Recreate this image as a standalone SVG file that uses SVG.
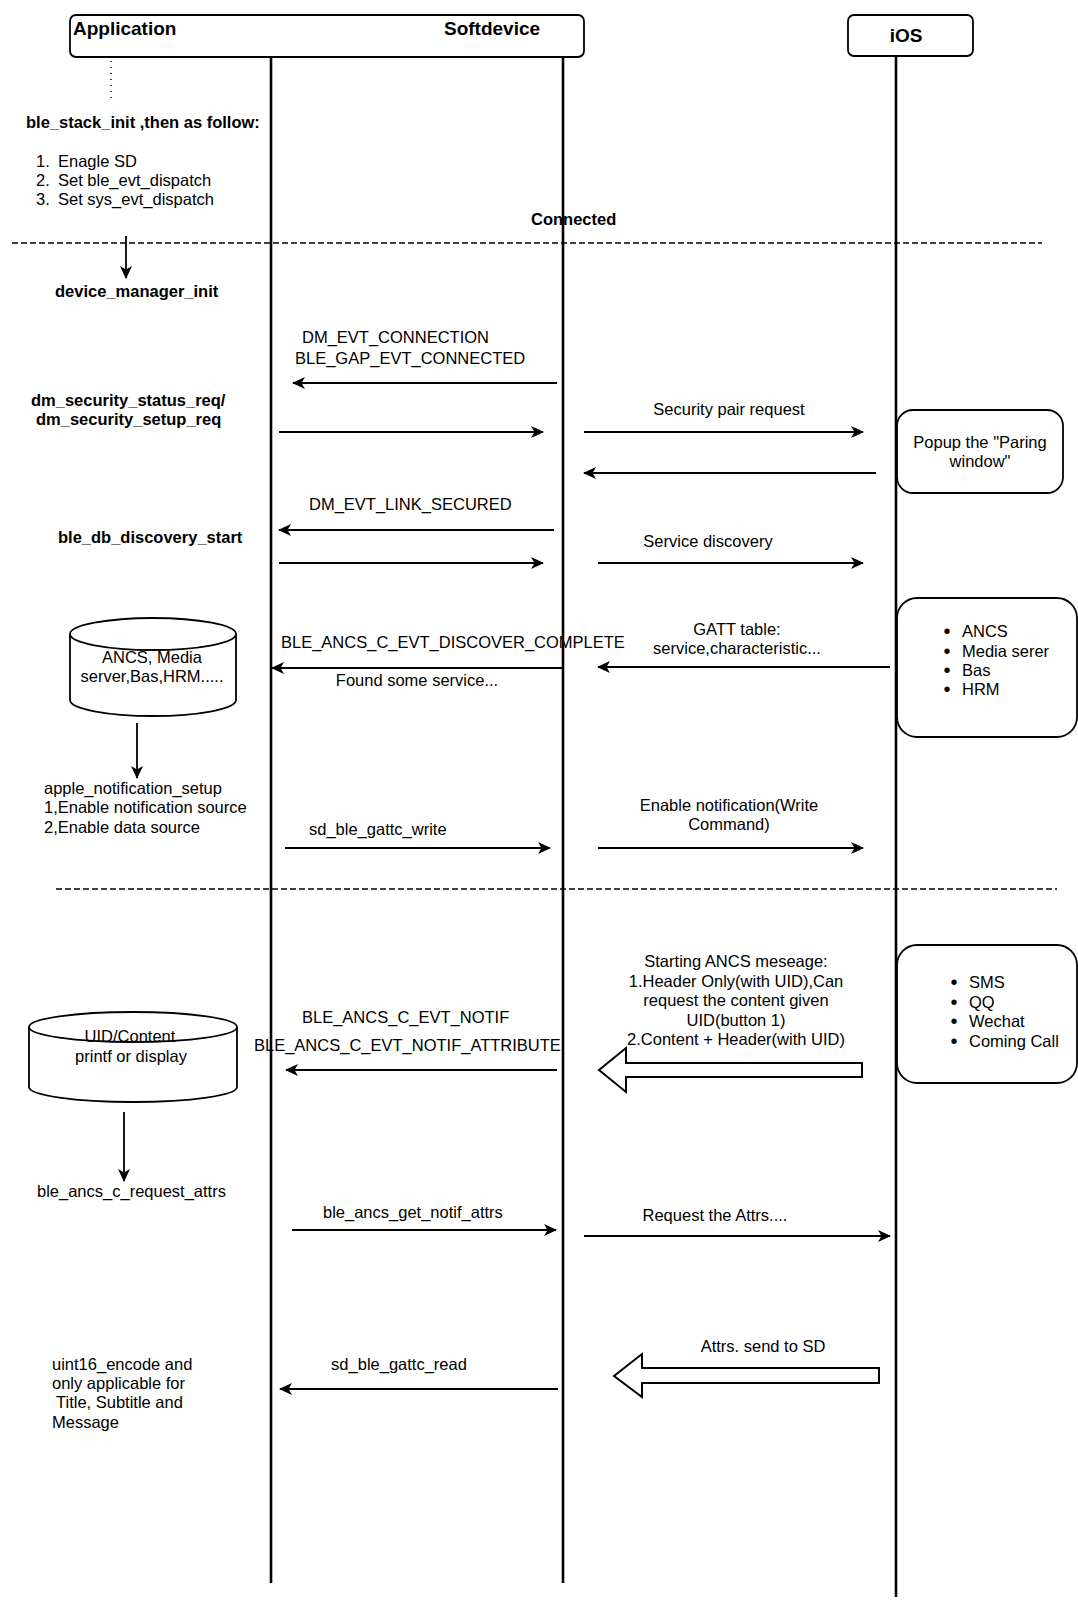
<svg xmlns="http://www.w3.org/2000/svg" width="1078" height="1601" viewBox="0 0 1078 1601">
<defs>
<marker id="ah" viewBox="0 0 13 12" refX="12" refY="6" markerWidth="13" markerHeight="12" markerUnits="userSpaceOnUse" orient="auto"><path d="M0,0 L13,6 L0,12 L3.5,6 Z" fill="#000"/></marker>
<style>
text{font-family:"Liberation Sans",Arial,Helvetica,sans-serif;fill:#000;font-size:16.5px}
.b{font-weight:bold}
.h{font-weight:bold;font-size:19px}
.m{text-anchor:middle}
.bu{text-anchor:middle;font-size:20px}
.ln{stroke:#000;stroke-width:1.8;fill:none;marker-end:url(#ah)}
.life{stroke:#000;stroke-width:2.6}
.box{fill:#fff;stroke:#000;stroke-width:1.8}
.dash{stroke:#000;stroke-width:1.5;stroke-dasharray:6 3}
.blk{fill:#fff;stroke:#000;stroke-width:2;stroke-linejoin:miter}
</style>
</defs>
<rect width="1078" height="1601" fill="#fff"/>

<g id="header-app-sd">
<rect class="box" x="70" y="15" width="514" height="42" rx="6"/>
<text class="h" x="73" y="35">Application</text>
<text class="h" x="444" y="35">Softdevice</text>
</g>
<g id="header-ios">
<rect class="box" x="848" y="15" width="125" height="41" rx="6"/>
<text class="h m" x="906" y="42">iOS</text>
</g>

<g id="separators">
<line x1="111" y1="61" x2="111" y2="100" stroke="#000" stroke-width="1.5" stroke-dasharray="1 5"/>
<line class="dash" x1="12" y1="243" x2="1042" y2="243"/>
<line class="dash" x1="56" y1="889" x2="1057" y2="889"/>
</g>

<g id="init-notes">
<text class="b" x="26" y="128">ble_stack_init ,then as follow:</text>
<text x="36" y="167">1.</text><text x="58" y="167">Enagle SD</text>
<text x="36" y="186">2.</text><text x="58" y="186">Set ble_evt_dispatch</text>
<text x="36" y="205">3.</text><text x="58" y="205">Set sys_evt_dispatch</text>
<text class="b" x="531" y="225">Connected</text>
<text class="b" x="55" y="297">device_manager_init</text>
<text class="b" x="31" y="406">dm_security_status_req/</text>
<text class="b" x="36" y="425">dm_security_setup_req</text>
<text class="b" x="58" y="543">ble_db_discovery_start</text>
<text x="44" y="794">apple_notification_setup</text>
<text x="44" y="813">1,Enable notification source</text>
<text x="44" y="833">2,Enable data source</text>
<text x="37" y="1197">ble_ancs_c_request_attrs</text>
<text x="52" y="1370">uint16_encode and</text>
<text x="52" y="1389">only applicable for</text>
<text x="56" y="1408">Title, Subtitle and</text>
<text x="52" y="1428">Message</text>
</g>

<g id="popup-box">
<rect class="box" x="897" y="410" width="166" height="83" rx="16"/>
<text class="m" x="980" y="448">Popup the "Paring</text>
<text class="m" x="980" y="467">window"</text>
</g>
<g id="services-box">
<rect class="box" x="897" y="598" width="180" height="139" rx="20"/>
<text x="947" y="638" class="bu">•</text><text x="962" y="637">ANCS</text>
<text x="947" y="657.5" class="bu">•</text><text x="962" y="656.5">Media serer</text>
<text x="947" y="677" class="bu">•</text><text x="962" y="676">Bas</text>
<text x="947" y="696" class="bu">•</text><text x="962" y="695">HRM</text>
</g>
<g id="apps-box">
<rect class="box" x="897" y="945" width="180" height="138" rx="20"/>
<text x="954" y="989" class="bu">•</text><text x="969" y="988">SMS</text>
<text x="954" y="1009" class="bu">•</text><text x="969" y="1008">QQ</text>
<text x="954" y="1028" class="bu">•</text><text x="969" y="1027">Wechat</text>
<text x="954" y="1048" class="bu">•</text><text x="969" y="1047">Coming Call</text>
</g>
<g id="db-services">
<path class="box" d="M70,634 A83,16 0 0 1 236,634 L236,700 A83,16 0 0 1 70,700 Z"/>
<path d="M70,634 A83,16 0 0 0 236,634" fill="none" stroke="#000" stroke-width="1.8"/>
<text class="m" x="152" y="663">ANCS, Media</text>
<text class="m" x="152" y="682">server,Bas,HRM.....</text>
</g>
<g id="db-uid">
<path class="box" d="M29,1027 A104,15 0 0 1 237,1027 L237,1087 A104,15 0 0 1 29,1087 Z"/>
<text class="m" x="130" y="1042">UID/Content</text>
<path d="M29,1027 A104,15 0 0 0 237,1027" fill="none" stroke="#000" stroke-width="1.8"/>
<text class="m" x="131" y="1062">printf or display</text>
</g>

<g id="labels">
<text x="302" y="343">DM_EVT_CONNECTION</text>
<text x="295" y="364">BLE_GAP_EVT_CONNECTED</text>
<text class="m" x="729" y="415">Security pair request</text>
<text x="309" y="510">DM_EVT_LINK_SECURED</text>
<text class="m" x="708" y="547">Service discovery</text>
<text x="281" y="648">BLE_ANCS_C_EVT_DISCOVER_COMPLETE</text>
<text class="m" x="417" y="686">Found some service...</text>
<text class="m" x="737" y="635">GATT table:</text>
<text class="m" x="737" y="654">service,characteristic...</text>
<text x="309" y="835">sd_ble_gattc_write</text>
<text class="m" x="729" y="811">Enable notification(Write</text>
<text class="m" x="729" y="830">Command)</text>
<text class="m" x="736" y="967">Starting ANCS meseage:</text>
<text class="m" x="736" y="986.5">1.Header Only(with UID),Can</text>
<text class="m" x="736" y="1006">request the content given</text>
<text class="m" x="736" y="1025.5">UID(button 1)</text>
<text class="m" x="736" y="1045">2.Content + Header(with UID)</text>
<text x="302" y="1023">BLE_ANCS_C_EVT_NOTIF</text>
<text x="254" y="1051">BLE_ANCS_C_EVT_NOTIF_ATTRIBUTE</text>
<text x="323" y="1218">ble_ancs_get_notif_attrs</text>
<text class="m" x="715" y="1221">Request the Attrs....</text>
<text class="m" x="399" y="1370">sd_ble_gattc_read</text>
<text class="m" x="763" y="1352">Attrs. send to SD</text>
</g>

<g id="lifelines">
<line class="life" x1="271" y1="57" x2="271" y2="1583"/>
<line class="life" x1="563" y1="57" x2="563" y2="1583"/>
<line class="life" x1="896" y1="56" x2="896" y2="1597"/>
</g>

<g id="connectors">
<line class="ln" x1="126" y1="236" x2="126" y2="278"/>
<line class="ln" x1="557" y1="383" x2="293" y2="383"/>
<line class="ln" x1="279" y1="432" x2="543" y2="432"/>
<line class="ln" x1="584" y1="432" x2="863" y2="432"/>
<line class="ln" x1="876" y1="473" x2="584" y2="473"/>
<line class="ln" x1="554" y1="530" x2="279" y2="530"/>
<line class="ln" x1="279" y1="563" x2="543" y2="563"/>
<line class="ln" x1="598" y1="563" x2="863" y2="563"/>
<line class="ln" x1="562" y1="668" x2="272" y2="668"/>
<line class="ln" x1="890" y1="667" x2="598" y2="667"/>
<line class="ln" x1="137" y1="723" x2="137" y2="778"/>
<line class="ln" x1="285" y1="848" x2="550" y2="848"/>
<line class="ln" x1="598" y1="848" x2="863" y2="848"/>
<line class="ln" x1="557" y1="1070" x2="286" y2="1070"/>
<line class="ln" x1="124" y1="1112" x2="124" y2="1181"/>
<line class="ln" x1="292" y1="1230" x2="556" y2="1230"/>
<line class="ln" x1="584" y1="1236" x2="890" y2="1236"/>
<line class="ln" x1="558" y1="1389" x2="280" y2="1389"/>
<polygon class="blk" points="599,1070 626,1048 626,1063 862,1063 862,1077 626,1077 626,1092"/>
<polygon class="blk" points="614,1376 642,1354 642,1368 879,1368 879,1383 642,1383 642,1397"/>
</g>
</svg>
